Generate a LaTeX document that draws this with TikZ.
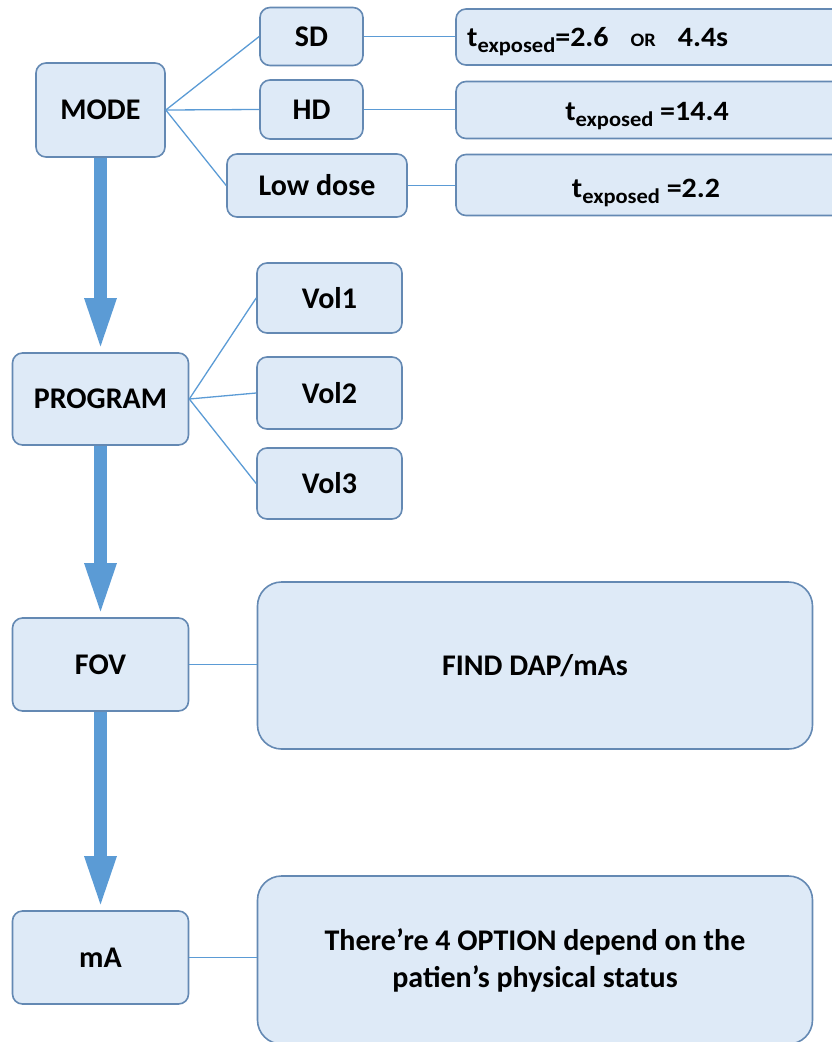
\documentclass[tikz,border=0pt]{standalone}
\usepackage{fontspec}
\setmainfont{Carlito}
\usetikzlibrary{arrows.meta}
\definecolor{boxfill}{HTML}{DEEAF7}
\definecolor{boxline}{HTML}{6489B3}
\definecolor{linkblue}{HTML}{5B9BD5}
\definecolor{arrowblue}{HTML}{5B9BD5}
\tikzset{
  box/.style={draw=boxline, fill=boxfill, line width=1.6pt, rounded corners=10pt, inner sep=0pt,
    font=\fontsize{30}{36}\selectfont\bfseries},
  bigbox/.style={box, rounded corners=24pt},
  link/.style={draw=linkblue, line width=1.3pt},
  flow/.style={draw=arrowblue, line width=13pt, -{Triangle[width=28pt,length=54pt]}},
  txt/.style={inner sep=0pt, font=\fontsize{28}{32}\selectfont\bfseries},
}
\newcommand{\expsub}{\raisebox{-6pt}{\fontsize{21}{24}\selectfont exposed}}
\newcommand{\wide}[1]{\scalebox{1.07}[1]{#1}}
\begin{document}
\begin{tikzpicture}[x=1pt,y=-1pt]
\useasboundingbox (0,0) rectangle (832,1042);
\clip (0,0) rectangle (832,1042);
% left column
\node[box, minimum width=129pt, minimum height=94pt] (mode) at (100.5,110) {MODE};
\node[box, minimum width=176pt, minimum height=92pt] (program) at (100.5,399) {PROGRAM};
\node[box, minimum width=176pt, minimum height=93pt] (fov) at (100.5,664.5) {FOV};
\node[box, minimum width=176pt, minimum height=93pt] (ma) at (100.5,957.5) {mA};
% mode branches
\node[box, minimum width=103pt, minimum height=58pt] (sd) at (311.5,36.5) {SD};
\node[box, minimum width=103pt, minimum height=59pt] (hd) at (311.5,109.5) {HD};
\node[box, minimum width=180pt, minimum height=63pt] (low) at (317,185.5) {Low dose};
\node[box, minimum width=390pt, minimum height=56pt] (tsd) at (651,37) {};
\node[box, minimum width=390pt, minimum height=57pt] (thd) at (651,110) {};
\node[box, minimum width=390pt, minimum height=61pt] (tlow) at (651,185) {};
\node[txt, anchor=base west] (tsdtext) at (467,46) {\wide{t\expsub=2.6}\hspace{22pt}\wide{\fontsize{19}{22}\selectfont OR}\hspace{22pt}\wide{4.4s}};
\node[txt, anchor=base] (thdtext) at (647,120) {\wide{t\expsub\ =14.4}};
\node[txt, anchor=base] (tlowtext) at (646,197) {\wide{t\expsub\ =2.2}};
% program branches
\node[box, minimum width=145pt, minimum height=70pt] (vol1) at (329.5,298) {Vol1};
\node[box, minimum width=145pt, minimum height=72pt] (vol2) at (329.5,393) {Vol2};
\node[box, minimum width=145pt, minimum height=71pt] (vol3) at (329.5,483.5) {Vol3};
% big boxes
\node[bigbox, minimum width=555pt, minimum height=167pt] (find) at (535,665.5) {FIND DAP/mAs};
\node[bigbox, minimum width=555pt, minimum height=168pt, align=center, font=\fontsize{30}{37}\selectfont\bfseries] (there) at (535,960) {There’re 4 OPTION depend on the\\patien’s physical status};
% links
\draw[link] (mode.east) -- (sd.west);
\draw[link] (mode.east) -- (hd.west);
\draw[link] (mode.east) -- (low.west);
\draw[link] (sd.east) -- (sd.east -| tsd.west);
\draw[link] (hd.east) -- (hd.east -| thd.west);
\draw[link] (low.east) -- (low.east -| tlow.west);
\draw[link] (program.east) -- (vol1.west);
\draw[link] (program.east) -- (vol2.west);
\draw[link] (program.east) -- (vol3.west);
\draw[link] (fov.east) -- (fov.east -| find.west);
\draw[link] (ma.east) -- (ma.east -| there.west);
% flow arrows
\draw[flow] (mode.south) -- (program.north);
\draw[flow] (program.south) -- (fov.north);
\draw[flow] (fov.south) -- (ma.north);
\end{tikzpicture}
\end{document}
